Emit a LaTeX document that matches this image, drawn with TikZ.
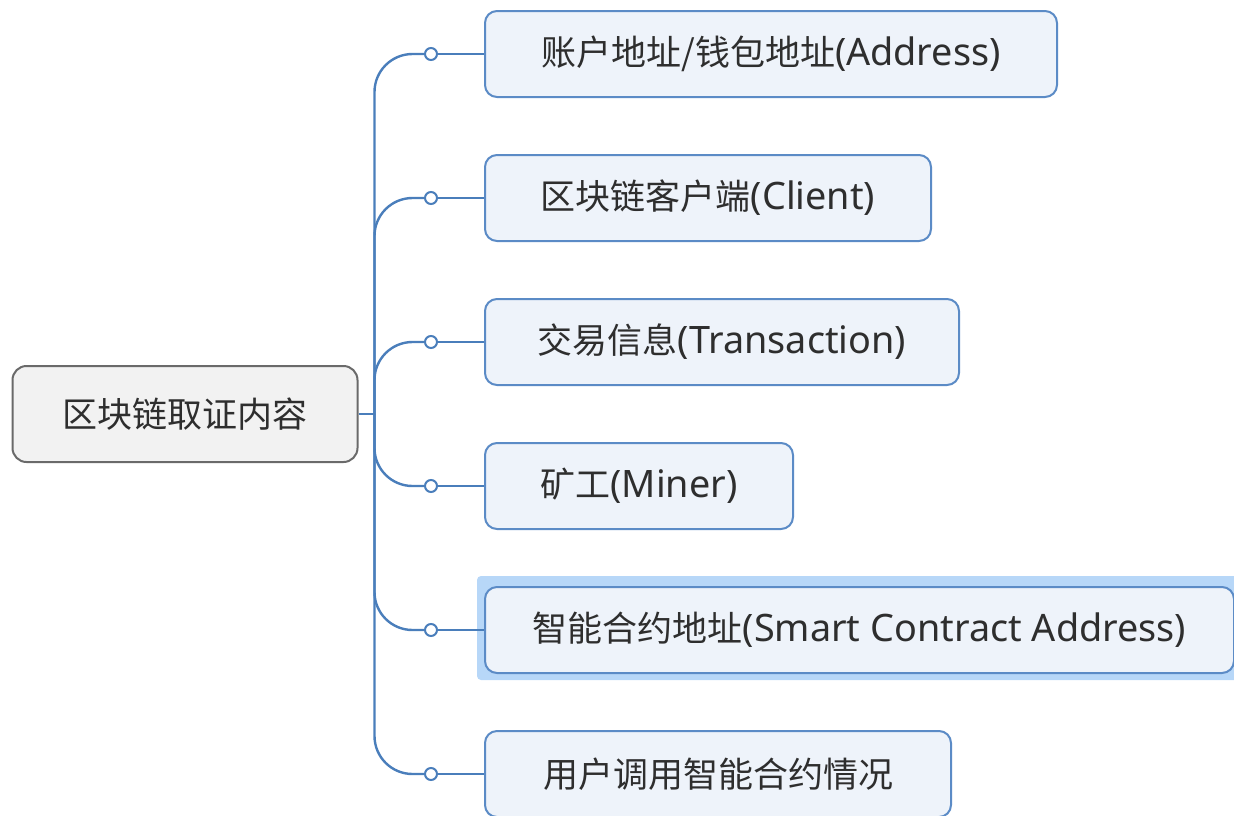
\documentclass[tikz,border=0pt]{standalone}
\usepackage{fontspec}
\setmainfont{Noto Sans}[Scale=1.08]
\newfontfamily\cjk{Noto Sans CJK SC}
\usetikzlibrary{positioning}

\definecolor{linkblue}{HTML}{4A7EBB}
\definecolor{topicline}{HTML}{5B8BC6}
\definecolor{topicfill}{HTML}{EEF3FA}
\definecolor{rootline}{HTML}{6A6A6A}
\definecolor{rootfill}{HTML}{F2F2F2}
\definecolor{selfill}{HTML}{B7D7F8}
\definecolor{txt}{HTML}{2E2E2E}

\tikzset{
  root/.style={draw=rootline, fill=rootfill, line width=2pt, rounded corners=14pt,
    minimum width=345pt, minimum height=96pt, text=txt, font=\fontsize{35}{42}\selectfont},
  topic/.style={draw=topicline, fill=topicfill, line width=2pt, rounded corners=12pt,
    minimum height=86pt, anchor=west, text=txt, font=\fontsize{35}{42}\selectfont},
  knob/.style={circle, draw=linkblue, fill=white, line width=2pt, inner sep=0pt, minimum size=12pt},
  link/.style={draw=linkblue, line width=2.4pt},
  fork/.style={link, rounded corners=38pt},
}

\begin{document}
\begin{tikzpicture}[x=1pt,y=-1pt]
\useasboundingbox (0,0) rectangle (1234,815);
% Selection
\fill[selfill, rounded corners=4pt] (477,576) rectangle (1245,680);
% Nodes
\node(R)[root] at (185,414){\cjk 区块链取证内容};
\coordinate[right = 16pt of R](T);
\node(t1)[topic, minimum width=572pt] at (484,54){{\cjk 账户地址/钱包地址}(Address)};
\node(t2)[topic, minimum width=446pt] at (484,198){{\cjk 区块链客户端}(Client)};
\node(t3)[topic, minimum width=474pt] at (484,342){{\cjk 交易信息}(Transaction)};
\node(t4)[topic, minimum width=308pt] at (484,486){{\cjk 矿工}(Miner)};
\node(t5)[topic, minimum width=749pt] at (484,630){{\cjk 智能合约地址}(Smart Contract Address)};
\node(t6)[topic, minimum width=466pt] at (484,774){\cjk 用户调用智能合约情况};
\node(k1)[knob, left = 46pt of t1]{};
\node(k2)[knob, left = 46pt of t2]{};
\node(k3)[knob, left = 46pt of t3]{};
\node(k4)[knob, left = 46pt of t4]{};
\node(k5)[knob, left = 46pt of t5]{};
\node(k6)[knob, left = 46pt of t6]{};
% Arcs
\draw[link] (R) -- (T);
\draw[fork] (T) |- (k1);
\draw[fork] (T) |- (k2);
\draw[fork] (T) |- (k3);
\draw[fork] (T) |- (k4);
\draw[fork] (T) |- (k5);
\draw[fork] (T) |- (k6);
\draw[link] (k1) -- (t1);
\draw[link] (k2) -- (t2);
\draw[link] (k3) -- (t3);
\draw[link] (k4) -- (t4);
\draw[link] (k5) -- (t5);
\draw[link] (k6) -- (t6);
\end{tikzpicture}
\end{document}
